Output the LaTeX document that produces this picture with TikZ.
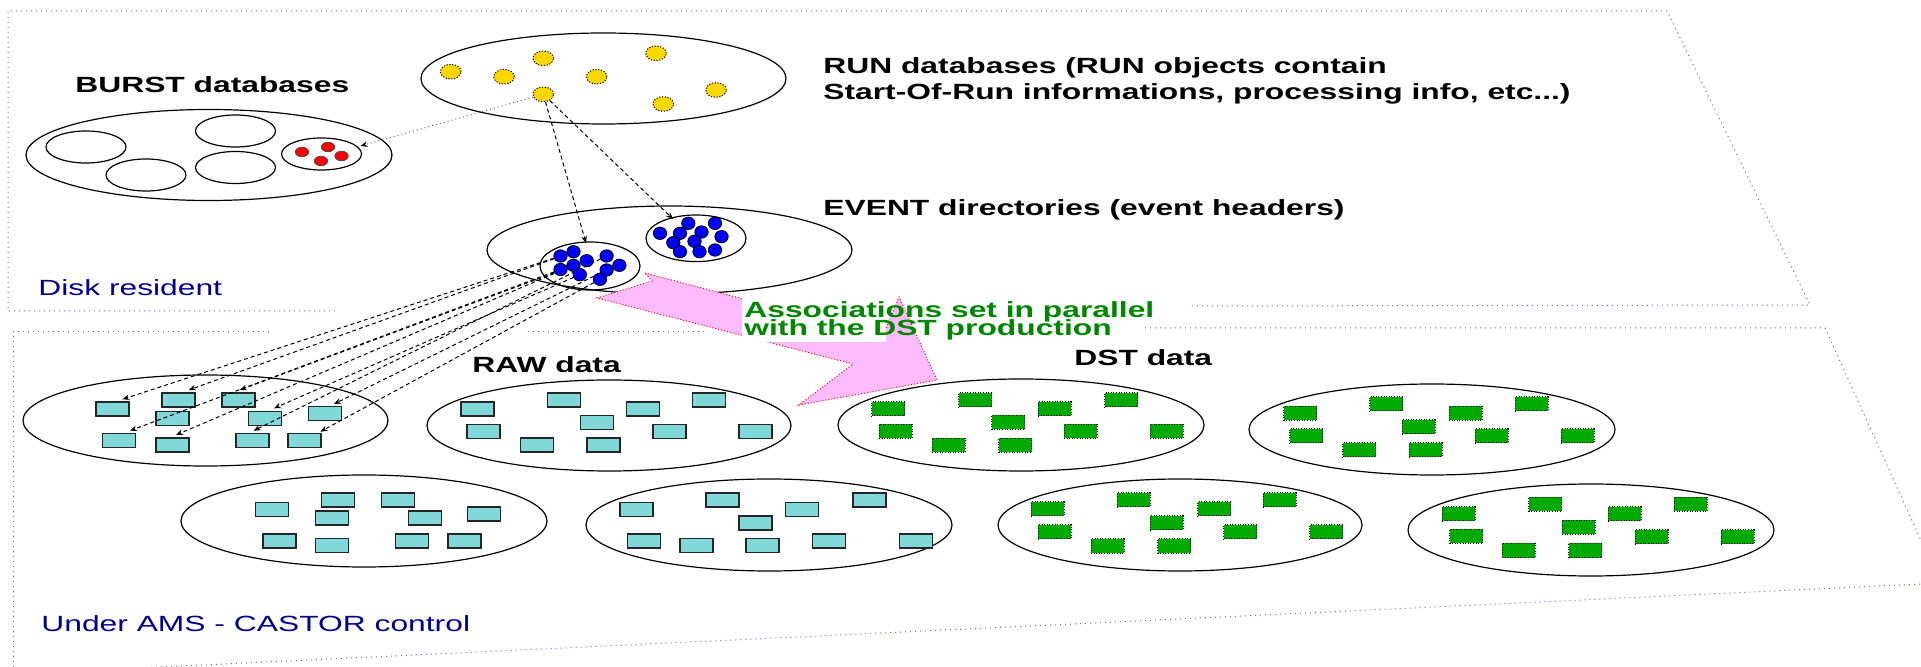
\documentclass[tikz,border=0pt]{standalone}
\usepackage{fontspec}
\setmainfont{Liberation Sans}[FakeStretch=1.445]
\usetikzlibrary{shapes.geometric,arrows.meta,calc}
\definecolor{bord}{RGB}{100,100,210}
\definecolor{golddot}{RGB}{255,215,0}
\definecolor{cyanbox}{RGB}{128,216,216}
\definecolor{dstgreen}{RGB}{0,170,0}
\definecolor{pinkarrow}{RGB}{255,187,255}
\definecolor{txtgreen}{RGB}{0,135,0}
\definecolor{mynavy}{RGB}{0,0,140}
\pgfdeclarelayer{front}
\pgfsetlayers{main,front}
\begin{document}
\begin{tikzpicture}[x=0.5pt,y=-0.5pt,
  region/.style={draw=bord, line width=0.5pt, dash pattern=on 0.5pt off 2pt},
  ell/.style 2 args={draw, ellipse, inner sep=0pt, minimum width=#1pt, minimum height=#2pt, line width=0.6pt},
  ydot/.style={ellipse, draw=black, fill=golddot, dash pattern=on 0.6pt off 0.8pt, line width=0.5pt, inner sep=0pt, minimum width=10.3pt, minimum height=7.3pt},
  bdot/.style={ellipse, draw=black, fill=blue, line width=0.4pt, inner sep=0pt, minimum width=6.7pt, minimum height=6.2pt},
  rdot/.style={ellipse, draw=black!70, fill=red, line width=0.4pt, inner sep=0pt, minimum width=6.7pt, minimum height=4.8pt},
  rawbox/.style={rectangle, draw=black!85, fill=cyanbox, line width=0.6pt, inner sep=0pt, minimum width=16.5pt, minimum height=7pt},
  dstbox/.style={rectangle, draw=black, dash pattern=on 0.5pt off 0.8pt, fill=dstgreen, line width=0.5pt, inner sep=0pt, minimum width=16.5pt, minimum height=7pt},
  link/.style={draw=black, line width=0.5pt, dash pattern=on 2pt off 1.5pt, -{Stealth[length=3.5pt,width=2.8pt]}},
  dlink/.style={draw=black!60, line width=0.5pt, dash pattern=on 0.5pt off 1.5pt, -{Stealth[length=3.5pt,width=2.8pt,black]}},
  title/.style={font=\bfseries\fontsize{11}{13}\selectfont, anchor=base west, inner sep=0pt},
  plain/.style={font=\fontsize{11}{13}\selectfont, anchor=base west, inner sep=0pt, text=mynavy},
  assoc/.style={font={\bfseries\fontsize{11}{9}\selectfont\lineskiplimit=-20pt}, align=left, anchor=north west, inner sep=0pt, text=txtgreen}
]
\useasboundingbox (0,0) rectangle (1921,667);
\clip (0,0) rectangle (1921,667);

% region borders
\draw[region] (335,311) -- (8,311) -- (8,11) -- (1667,11) -- (1810,305) -- (1188,306);
\draw[region] (269,332) -- (13,332) -- (13,700);
\draw[region] (528,332) -- (705,332);
\draw[region] (1145,328) -- (1825,328) -- (1993,700);
\draw[region] (2000,580.3) -- (100,669.8);

% ellipses
\node[ell={183}{45.5}] (burst) at (209,155) {};
\node[ell={40}{16}] (b1) at (86,147) {};
\node[ell={40}{16}] (b2) at (235.5,131) {};
\node[ell={40}{16}] (b3) at (146,175) {};
\node[ell={40}{16}] (b4) at (235.5,167.5) {};
\node[ell={40}{16}] (b5) at (321.5,154) {};
\node[ell={182.5}{45.5}] (run) at (603.5,78.5) {};
\node[ell={182.5}{44}] (event) at (669.5,250) {};
\node[ell={50}{24}] (evl) at (590,266) {};
\node[ell={50}{23.3}] (evr) at (696,238.3) {};
\node[ell={182.5}{45.5}] (raw1) at (205.5,420.5) {};
\node[ell={182}{45.5}] (raw2) at (609,425.5) {};
\node[ell={183}{46}] (raw3) at (364,521) {};
\node[ell={183}{46}] (raw4) at (769,525) {};
\node[ell={183}{46}] (dst1) at (1021,425) {};
\node[ell={183}{45.5}] (dst2) at (1432,429.5) {};
\node[ell={182}{46}] (dst3) at (1180,525) {};
\node[ell={183}{46}] (dst4) at (1591,530) {};

% dots (front layer)
\begin{pgfonlayer}{front}
\foreach \i/\x/\y in {1/302/152,2/328/147,3/341.5/156,4/321/161}
  \node[rdot] (rd\i) at (\x,\y) {};
\foreach \i/\x/\y in {1/450.7/71.7,2/504/76.7,3/543.3/58.3,4/596.7/76.7,5/656/53.3,6/716/90,7/663.3/104,8/543.3/94.3}
  \node[ydot] (yd\i) at (\x,\y) {};
\foreach \i/\x/\y in {1/560.5/256,2/573.5/251.7,3/586.7/260.7,4/606.6/256,5/619.4/265.3,6/560.5/269.5,7/573.5/265.3,8/579.8/274.7,9/606.6/270,10/600/279.3}
  \node[bdot] (ld\i) at (\x,\y) {};
\foreach \i/\x/\y in {1/660/233.3,2/680/233.3,3/688.3/223.3,4/715/223.3,5/701.5/232,6/721.5/236.7,7/673.3/242.7,8/694.5/241.3,9/680/251.7,10/699.5/251.7,11/715/250}
  \node[bdot] (rbd\i) at (\x,\y) {};
\end{pgfonlayer}

% raw boxes
\foreach \i/\x/\y in {1/112.5/409,2/178.5/400,3/238.5/400,4/172.5/418.5,5/265/418.5,6/325/413.5,7/119/440.5,8/172.5/445,9/252.5/440.5,10/304.5/440.5}
  \node[rawbox] (ra\i) at (\x,\y) {};
\foreach \i/\x/\y in {1/477.5/409,2/564/400,3/643/409,4/709/400,5/597/422.5,6/483.5/431.5,7/669.5/431.5,8/755.5/431.5,9/537/445,10/603.5/445}
  \node[rawbox] (rb\i) at (\x,\y) {};
\foreach \i/\x/\y in {1/272/509.5,2/338/500,3/398/500,4/332/518,5/425/518,6/484/514,7/279.5/541,8/332/545.5,9/412/541,10/464.5/541}
  \node[rawbox] (rc\i) at (\x,\y) {};
\foreach \i/\x/\y in {1/636.5/509.5,2/722.5/500,3/802/509.5,4/869.5/500,5/755.5/523,6/643.7/541,7/829/541,8/916/541,9/696.5/545.5,10/762.5/545.5}
  \node[rawbox] (rd\i) at (\x,\y) {};

% dst boxes
\foreach \i/\x/\y in {1/888/409,2/975/400,3/1054.5/409,4/1121/400,5/1008/422.5,6/895.5/431.5,7/1080.5/431.5,8/1166.5/431.5,9/948.5/445.5,10/1015/445.5}
  \node[dstbox] (da\i) at (\x,\y) {};
\foreach \i/\x/\y in {1/1300/413.5,2/1386/404,3/1465.5/413.5,4/1531.5/404,5/1418.5/427,6/1306/436,7/1491.5/436,8/1577.5/436,9/1359/450,10/1425.5/450}
  \node[dstbox] (db\i) at (\x,\y) {};
\foreach \i/\x/\y in {1/1047.5/509,2/1133.5/500,3/1214/509,4/1279.5/500,5/1166.5/523,6/1054.5/532,7/1240/532,8/1326/532,9/1107.5/546,10/1174/546}
  \node[dstbox] (dc\i) at (\x,\y) {};
\foreach \i/\x/\y in {1/1458.5/514,2/1545/504.5,3/1624.5/514,4/1690.5/504.5,5/1578.5/527.5,6/1466/536.5,7/1651.5/537,8/1737.5/537,9/1518.5/550.5,10/1585/550.5}
  \node[dstbox] (dd\i) at (\x,\y) {};

% arrow end coordinates
\coordinate (burtip) at (360.5,146);
\coordinate (evtipL) at (586,243);
\coordinate (evtipR) at (673,219);
\coordinate (t1) at (122.4,399.3);
\coordinate (t2) at (188.8,390);
\coordinate (t3) at (239.8,390);
\coordinate (t5) at (274,408.3);
\coordinate (t6) at (334,404);
\coordinate (t7) at (130,430.7);
\coordinate (t8) at (176,435);
\coordinate (t9) at (253.6,430.7);
\coordinate (t10) at (320.4,431.7);

% connectors
\draw[dlink] (yd8) -- (burtip);
\draw[link] (yd8) -- (evtipL);
\draw[link] (yd8) -- (evtipR);
\draw[link] (ld1.center) -- (t1);
\draw[link] (ld2.center) -- (t2);
\draw[link] (ld3.center) -- (t3);
\draw[link] (ld8.center) -- (t5);
\draw[link] (ld9.center) -- (t6);
\draw[link] (ld6.center) -- (t7);
\draw[link] (ld7.center) -- (t8);
\draw[link] (ld4.center) -- (t9);
\draw[link] (ld10.center) -- (t10);

% big pink arrow
\draw[fill=pinkarrow, draw=red, line width=0.5pt, dash pattern=on 0.5pt off 1pt]
  (645,273) -- (883,336) -- (899,297) -- (937,380) -- (799,405) -- (853,364) -- (597,298) -- (652,281) -- cycle;
\fill[white] (742,297) rectangle (886,342);

% texts
\node[title] (tburst) at (75,93) {BURST databases};
\node[title] (trun1) at (823,74) {RUN databases (RUN objects contain};
\node[title] (trun2) at (823,100) {Start-Of-Run informations, processing info, etc...)};
\node[title] (tevent) at (823,216) {EVENT directories (event headers)};
\node[title] (traw) at (472,373) {RAW data};
\node[title] (tdst) at (1074,366) {DST data};
\node[plain] (tdisk) at (38,296) {Disk resident};
\node[plain] (tams) at (41,631) {Under AMS - CASTOR control};
\node[assoc] (tassoc) at (744,301) {Associations set in parallel\\with the DST production};
\end{tikzpicture}
\end{document}
